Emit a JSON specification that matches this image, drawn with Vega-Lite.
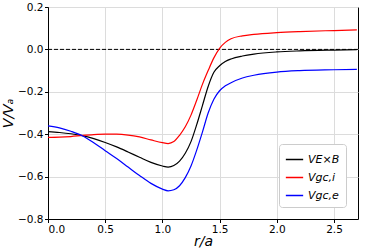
{
  "$schema": "https://vega.github.io/schema/vega-lite/v6.json",
  "width": 310,
  "height": 212,
  "autosize": "none",
  "padding": {"left": 48, "top": 7, "right": 16, "bottom": 30},
  "config": {
    "font": "DejaVu Sans",
    "view": {"stroke": "black", "strokeWidth": 1},
    "axis": {
      "labelColor": "black", "labelFontSize": 10.5, "tickColor": "black", "domainColor": "black",
      "gridColor": "#dcdcdc", "tickSize": 3.5, "labelPadding": 1.5,
      "titleFontWeight": "normal", "titleFontStyle": "italic", "titleFontSize": 14, "titleColor": "black"
    }
  },
  "datasets": {
    "curves": [
      {"r": 0.0, "v": -0.388, "s": "VE×B"}, {"r": 0.1, "v": -0.392, "s": "VE×B"}, {"r": 0.2, "v": -0.398, "s": "VE×B"},
      {"r": 0.3, "v": -0.407, "s": "VE×B"}, {"r": 0.4, "v": -0.421, "s": "VE×B"}, {"r": 0.5, "v": -0.439, "s": "VE×B"},
      {"r": 0.6, "v": -0.46, "s": "VE×B"}, {"r": 0.7, "v": -0.484, "s": "VE×B"}, {"r": 0.8, "v": -0.509, "s": "VE×B"},
      {"r": 0.9, "v": -0.533, "s": "VE×B"}, {"r": 1.0, "v": -0.55, "s": "VE×B"}, {"r": 1.05, "v": -0.555, "s": "VE×B"},
      {"r": 1.1, "v": -0.548, "s": "VE×B"}, {"r": 1.15, "v": -0.527, "s": "VE×B"}, {"r": 1.2, "v": -0.49, "s": "VE×B"},
      {"r": 1.25, "v": -0.435, "s": "VE×B"}, {"r": 1.3, "v": -0.355, "s": "VE×B"}, {"r": 1.35, "v": -0.265, "s": "VE×B"},
      {"r": 1.4, "v": -0.175, "s": "VE×B"}, {"r": 1.45, "v": -0.108, "s": "VE×B"}, {"r": 1.5, "v": -0.077, "s": "VE×B"},
      {"r": 1.55, "v": -0.057, "s": "VE×B"}, {"r": 1.6, "v": -0.045, "s": "VE×B"}, {"r": 1.7, "v": -0.031, "s": "VE×B"},
      {"r": 1.8, "v": -0.022, "s": "VE×B"}, {"r": 2.0, "v": -0.012, "s": "VE×B"}, {"r": 2.2, "v": -0.007, "s": "VE×B"},
      {"r": 2.5, "v": -0.003, "s": "VE×B"}, {"r": 2.7, "v": -0.001, "s": "VE×B"},

      {"r": 0.0, "v": -0.415, "s": "Vgc,i"}, {"r": 0.1, "v": -0.414, "s": "Vgc,i"}, {"r": 0.2, "v": -0.411, "s": "Vgc,i"},
      {"r": 0.3, "v": -0.406, "s": "Vgc,i"}, {"r": 0.4, "v": -0.402, "s": "Vgc,i"}, {"r": 0.5, "v": -0.4, "s": "Vgc,i"},
      {"r": 0.6, "v": -0.4, "s": "Vgc,i"}, {"r": 0.7, "v": -0.404, "s": "Vgc,i"}, {"r": 0.8, "v": -0.413, "s": "Vgc,i"},
      {"r": 0.9, "v": -0.427, "s": "Vgc,i"}, {"r": 1.0, "v": -0.44, "s": "Vgc,i"}, {"r": 1.05, "v": -0.444, "s": "Vgc,i"},
      {"r": 1.1, "v": -0.435, "s": "Vgc,i"}, {"r": 1.15, "v": -0.405, "s": "Vgc,i"}, {"r": 1.2, "v": -0.365, "s": "Vgc,i"},
      {"r": 1.25, "v": -0.31, "s": "Vgc,i"}, {"r": 1.3, "v": -0.24, "s": "Vgc,i"}, {"r": 1.35, "v": -0.165, "s": "Vgc,i"},
      {"r": 1.4, "v": -0.1, "s": "Vgc,i"}, {"r": 1.45, "v": -0.04, "s": "Vgc,i"}, {"r": 1.5, "v": 0.005, "s": "Vgc,i"},
      {"r": 1.55, "v": 0.033, "s": "Vgc,i"}, {"r": 1.6, "v": 0.05, "s": "Vgc,i"}, {"r": 1.7, "v": 0.064, "s": "Vgc,i"},
      {"r": 1.8, "v": 0.071, "s": "Vgc,i"}, {"r": 2.0, "v": 0.079, "s": "Vgc,i"}, {"r": 2.2, "v": 0.084, "s": "Vgc,i"},
      {"r": 2.5, "v": 0.089, "s": "Vgc,i"}, {"r": 2.7, "v": 0.092, "s": "Vgc,i"},

      {"r": 0.0, "v": -0.361, "s": "Vgc,e"}, {"r": 0.1, "v": -0.37, "s": "Vgc,e"}, {"r": 0.2, "v": -0.386, "s": "Vgc,e"},
      {"r": 0.3, "v": -0.407, "s": "Vgc,e"}, {"r": 0.4, "v": -0.44, "s": "Vgc,e"}, {"r": 0.5, "v": -0.478, "s": "Vgc,e"},
      {"r": 0.6, "v": -0.515, "s": "Vgc,e"}, {"r": 0.7, "v": -0.555, "s": "Vgc,e"}, {"r": 0.8, "v": -0.595, "s": "Vgc,e"},
      {"r": 0.9, "v": -0.632, "s": "Vgc,e"}, {"r": 1.0, "v": -0.659, "s": "Vgc,e"}, {"r": 1.05, "v": -0.667, "s": "Vgc,e"},
      {"r": 1.1, "v": -0.662, "s": "Vgc,e"}, {"r": 1.15, "v": -0.643, "s": "Vgc,e"}, {"r": 1.2, "v": -0.605, "s": "Vgc,e"},
      {"r": 1.25, "v": -0.55, "s": "Vgc,e"}, {"r": 1.3, "v": -0.475, "s": "Vgc,e"}, {"r": 1.35, "v": -0.39, "s": "Vgc,e"},
      {"r": 1.4, "v": -0.3, "s": "Vgc,e"}, {"r": 1.45, "v": -0.235, "s": "Vgc,e"}, {"r": 1.5, "v": -0.195, "s": "Vgc,e"},
      {"r": 1.55, "v": -0.172, "s": "Vgc,e"}, {"r": 1.6, "v": -0.157, "s": "Vgc,e"}, {"r": 1.7, "v": -0.135, "s": "Vgc,e"},
      {"r": 1.8, "v": -0.122, "s": "Vgc,e"}, {"r": 2.0, "v": -0.107, "s": "Vgc,e"}, {"r": 2.2, "v": -0.1, "s": "Vgc,e"},
      {"r": 2.5, "v": -0.096, "s": "Vgc,e"}, {"r": 2.7, "v": -0.094, "s": "Vgc,e"}
    ],
    "zero": [{"v": 0}]
  },
  "layer": [
    {
      "data": {"name": "zero"},
      "mark": {"type": "rule", "color": "black", "strokeWidth": 1, "strokeDash": [4, 2]},
      "encoding": {"y": {"field": "v", "type": "quantitative"}}
    },
    {
      "data": {"name": "curves"},
      "mark": {"type": "line", "interpolate": "monotone", "strokeWidth": 1.2},
      "encoding": {
        "x": {
          "field": "r", "type": "quantitative",
          "scale": {"domain": [0, 2.71], "nice": false, "zero": false},
          "axis": {"title": "r/a", "values": [0, 0.5, 1, 1.5, 2, 2.5], "format": ".1f", "titlePadding": 0}
        },
        "y": {
          "field": "v", "type": "quantitative",
          "scale": {"domain": [-0.8, 0.2], "nice": false},
          "axis": {"title": "V/Vₐ", "values": [-0.8, -0.6, -0.4, -0.2, 0, 0.2], "format": ".1f", "titlePadding": 2}
        },
        "color": {
          "field": "s", "type": "nominal",
          "scale": {"domain": ["VE×B", "Vgc,i", "Vgc,e"], "range": ["black", "red", "blue"]},
          "legend": {
            "title": null, "orient": "bottom-right", "offset": 12, "symbolType": "stroke",
            "symbolSize": 300, "symbolStrokeWidth": 1.5, "labelFontSize": 11, "labelFontStyle": "italic",
            "labelColor": "black", "strokeColor": "#cccccc", "fillColor": "white", "padding": 6,
            "cornerRadius": 3, "rowPadding": 3
          }
        }
      }
    }
  ]
}
